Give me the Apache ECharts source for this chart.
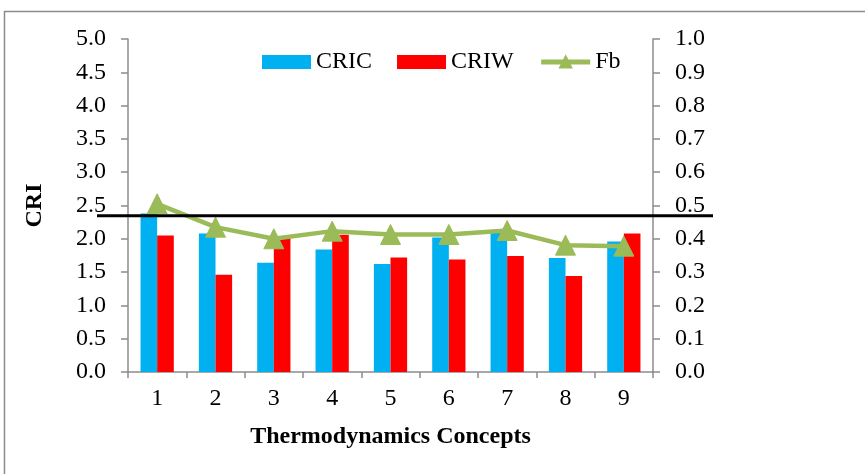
<!DOCTYPE html>
<html>
<head>
<meta charset="utf-8">
<script src="https://cdn.jsdelivr.net/npm/echarts@6/dist/echarts.min.js"></script>
<style>
html,body{margin:0;padding:0;background:#fff;}
#chart{width:865px;height:474px;}
</style>
</head>
<body>
<div id="chart"></div>
<script>
var categories = ['1','2','3','4','5','6','7','8','9'];
var cric = [2.38, 2.08, 1.64, 1.84, 1.62, 2.02, 2.10, 1.71, 1.96];
var criw = [2.05, 1.46, 2.01, 2.06, 1.72, 1.69, 1.74, 1.44, 2.08];
var fb = [0.505, 0.435, 0.40, 0.423, 0.413, 0.413, 0.425, 0.381, 0.378];
var threshold = 2.345;

var font = '"Liberation Serif","Times New Roman",serif';
var axisGray = '#8c8c8c';
var fs = 24;
var chart = echarts.init(document.getElementById('chart'));
var option = {
  animation: false,
  backgroundColor: '#fff',
  textStyle: {fontFamily: font},
  legend: {
    top: 50, left: 262, padding: 0,
    itemGap: 25, itemWidth: 49, itemHeight: 14,
    textStyle: {fontFamily: font, fontSize: fs, color: '#000'},
    data: [
      {name: 'CRIC', icon: 'rect'},
      {name: 'CRIW', icon: 'rect'},
      {name: 'Fb', lineStyle: {width: 5, color: '#9BBB59'}, itemStyle: {color: '#9BBB59'}}
    ]
  },
  grid: {left: 128, right: 212, top: 39, bottom: 102},
  xAxis: {
    type: 'category', data: categories,
    boundaryGap: true,
    name: 'Thermodynamics Concepts', nameLocation: 'middle', nameGap: 53,
    nameTextStyle: {fontFamily: font, fontSize: fs, fontWeight: 'bold', color: '#000'},
    axisLine: {lineStyle: {color: axisGray, width: 1.5}},
    axisTick: {show: true, length: 6, lineStyle: {color: axisGray, width: 1.5}},
    axisLabel: {fontFamily: font, fontSize: fs, color: '#000', margin: 15},
    splitLine: {show: false}
  },
  yAxis: [
    {
      type: 'value', min: 0, max: 5, interval: 0.5,
      name: 'CRI', nameLocation: 'middle', nameGap: 81, nameRotate: 90,
      nameTextStyle: {fontFamily: font, fontSize: fs, fontWeight: 'bold', color: '#000'},
      axisLine: {show: true, lineStyle: {color: axisGray, width: 1.5}},
      axisTick: {show: true, length: 7, lineStyle: {color: axisGray, width: 1.5}},
      axisLabel: {fontFamily: font, fontSize: fs, color: '#000', margin: 22,
        formatter: function(v){return v.toFixed(1);}},
      splitLine: {show: false}
    },
    {
      type: 'value', min: 0, max: 1, interval: 0.1,
      position: 'right',
      axisLine: {show: true, lineStyle: {color: axisGray, width: 1.5}},
      axisTick: {show: true, length: 7, lineStyle: {color: axisGray, width: 1.5}},
      axisLabel: {fontFamily: font, fontSize: fs, color: '#000', margin: 22,
        formatter: function(v){return v.toFixed(1);}},
      splitLine: {show: false}
    }
  ],
  series: [
    {name: 'CRIC', type: 'bar', data: cric, barGap: '0%', barCategoryGap: '43%',
      itemStyle: {color: '#00B0F0'}},
    {name: 'CRIW', type: 'bar', data: criw,
      itemStyle: {color: '#FF0000'}},
    {name: 'Fb', type: 'line', yAxisIndex: 1, data: fb,
      symbol: 'triangle', symbolSize: 20, showSymbol: true,
      lineStyle: {color: '#9BBB59', width: 4.5},
      itemStyle: {color: '#9BBB59', borderColor: '#9BBB59', borderWidth: 1}}
  ]
};
chart.setOption(option);

var yLine = chart.convertToPixel({yAxisIndex: 0}, threshold);
chart.setOption({
  graphic: [
    {type: 'rect', shape: {x: 4.5, y: 11.5, width: 900, height: 500},
      style: {fill: 'none', stroke: '#8c8c8c', lineWidth: 1.5}, z: 0, silent: true},
    {type: 'line', shape: {x1: 97, y1: yLine, x2: 713, y2: yLine},
      style: {stroke: '#000', lineWidth: 3}, z: 100, silent: true}
  ]
});
</script>
</body>
</html>
